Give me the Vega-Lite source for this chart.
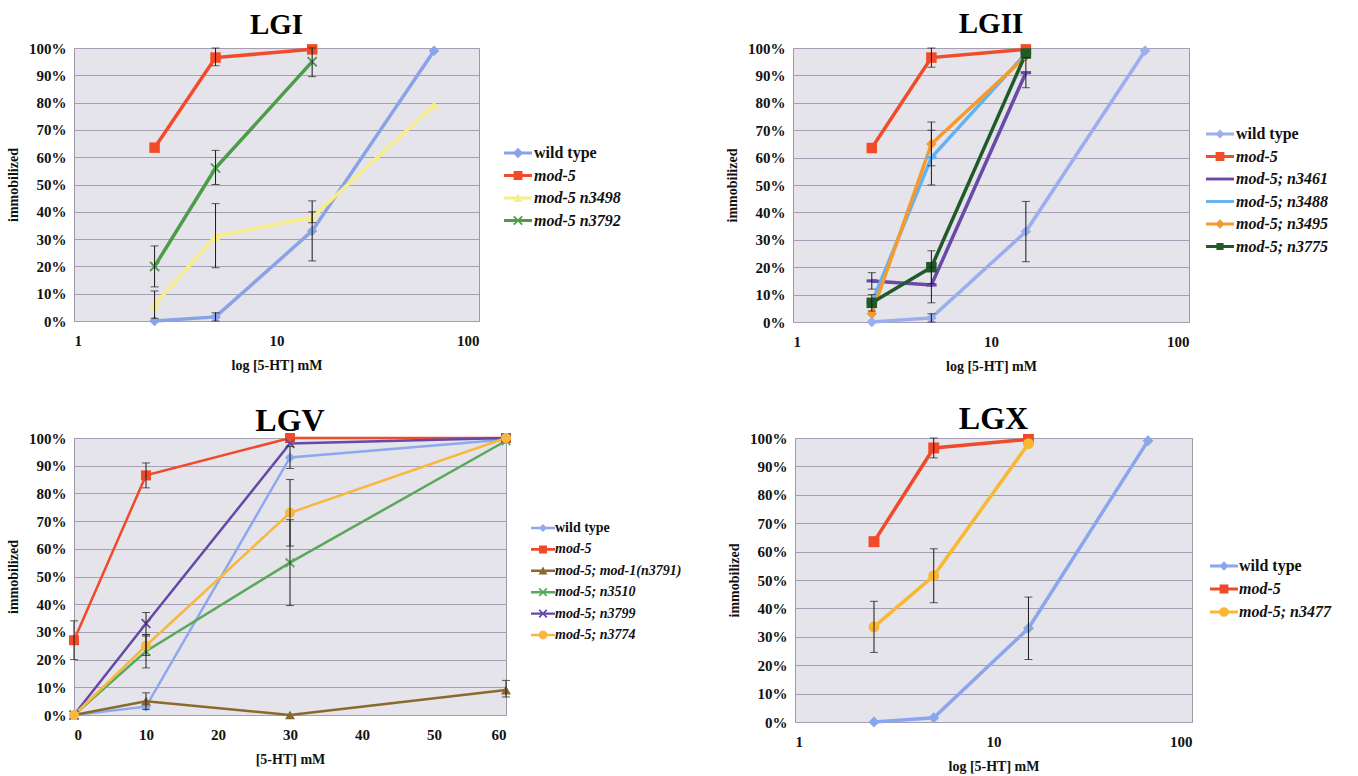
{
  "$schema": "https://vega.github.io/schema/vega-lite/v6.json",
  "background": "white",
  "padding": {"left": 6, "top": 9, "right": 0, "bottom": 0},
  "config": {
    "font": "Liberation Serif",
    "view": {"fill": "#e4e4ea", "stroke": "#9c9aa6", "strokeWidth": 1},
    "title": {"font": "Liberation Serif", "fontWeight": "bold", "fontSize": 29, "color": "#000", "anchor": "middle"},
    "axis": {
      "labelFont": "Liberation Serif", "labelFontWeight": "bold", "labelFontSize": 15, "labelColor": "#111",
      "titleFont": "Liberation Serif", "titleFontWeight": "bold", "titleFontSize": 14, "titleColor": "#111",
      "ticks": false, "domain": false, "grid": false, "labelOverlap": false
    },
    "axisY": {"grid": true, "gridColor": "#a69eb2", "gridWidth": 1, "gridOpacity": 1, "labelPadding": 8, "titlePadding": 8},
    "axisX": {"labelPadding": 12, "titlePadding": 10},
    "legend": {
      "labelFont": "Liberation Serif", "labelFontWeight": "bold", "labelFontSize": 16, "labelColor": "#111",
      "orient": "none", "direction": "vertical", "symbolSize": 256, "labelOffset": 8, "rowPadding": 6.5
    }
  },
  "datasets": {
    "lgi": [
      {"series": "wild type", "conc": 2.5, "pct": 0},
      {"series": "wild type", "conc": 5, "pct": 1.5, "lo": 0, "hi": 3},
      {"series": "wild type", "conc": 15, "pct": 33, "lo": 22, "hi": 44},
      {"series": "wild type", "conc": 60, "pct": 99},
      {"series": "mod-5", "conc": 2.5, "pct": 63.5},
      {"series": "mod-5", "conc": 5, "pct": 96.5, "lo": 93.5, "hi": 100},
      {"series": "mod-5", "conc": 15, "pct": 99.5},
      {"series": "mod-5 n3498", "conc": 2.5, "pct": 6, "lo": 1, "hi": 11},
      {"series": "mod-5 n3498", "conc": 5, "pct": 31, "lo": 19.5, "hi": 43},
      {"series": "mod-5 n3498", "conc": 15, "pct": 38, "lo": 36, "hi": 40},
      {"series": "mod-5 n3498", "conc": 60, "pct": 79},
      {"series": "mod-5 n3792", "conc": 2.5, "pct": 20, "lo": 12.5, "hi": 27.5},
      {"series": "mod-5 n3792", "conc": 5, "pct": 56, "lo": 50, "hi": 62.5},
      {"series": "mod-5 n3792", "conc": 15, "pct": 95, "lo": 89.5, "hi": 100}
    ],
    "lgii": [
      {"series": "wild type", "conc": 2.5, "pct": 0},
      {"series": "wild type", "conc": 5, "pct": 1.5, "lo": 0, "hi": 3},
      {"series": "wild type", "conc": 15, "pct": 33, "lo": 22, "hi": 44},
      {"series": "wild type", "conc": 60, "pct": 99},
      {"series": "mod-5", "conc": 2.5, "pct": 63.5},
      {"series": "mod-5", "conc": 5, "pct": 96.5, "lo": 93, "hi": 100},
      {"series": "mod-5", "conc": 15, "pct": 99.5},
      {"series": "mod-5; n3461", "conc": 2.5, "pct": 15, "lo": 12, "hi": 18},
      {"series": "mod-5; n3461", "conc": 5, "pct": 13.5, "lo": 7, "hi": 20},
      {"series": "mod-5; n3461", "conc": 15, "pct": 91, "lo": 85.5, "hi": 96.5},
      {"series": "mod-5; n3488", "conc": 2.5, "pct": 7},
      {"series": "mod-5; n3488", "conc": 5, "pct": 60, "lo": 50, "hi": 70},
      {"series": "mod-5; n3488", "conc": 15, "pct": 98},
      {"series": "mod-5; n3495", "conc": 2.5, "pct": 3},
      {"series": "mod-5; n3495", "conc": 5, "pct": 65, "lo": 57, "hi": 73},
      {"series": "mod-5; n3495", "conc": 15, "pct": 97},
      {"series": "mod-5; n3775", "conc": 2.5, "pct": 7, "lo": 4, "hi": 10},
      {"series": "mod-5; n3775", "conc": 5, "pct": 20, "lo": 14, "hi": 26},
      {"series": "mod-5; n3775", "conc": 15, "pct": 98}
    ],
    "lgv": [
      {"series": "wild type", "conc": 0, "pct": 0},
      {"series": "wild type", "conc": 10, "pct": 3},
      {"series": "wild type", "conc": 30, "pct": 93, "lo": 89, "hi": 97},
      {"series": "wild type", "conc": 60, "pct": 99.5},
      {"series": "mod-5", "conc": 0, "pct": 27, "lo": 20, "hi": 34},
      {"series": "mod-5", "conc": 10, "pct": 86.5, "lo": 82, "hi": 91},
      {"series": "mod-5", "conc": 30, "pct": 100},
      {"series": "mod-5", "conc": 60, "pct": 100},
      {"series": "mod-5; mod-1(n3791)", "conc": 0, "pct": 0},
      {"series": "mod-5; mod-1(n3791)", "conc": 10, "pct": 5, "lo": 2, "hi": 8},
      {"series": "mod-5; mod-1(n3791)", "conc": 30, "pct": 0},
      {"series": "mod-5; mod-1(n3791)", "conc": 60, "pct": 9, "lo": 6.5, "hi": 12.5},
      {"series": "mod-5; n3510", "conc": 0, "pct": 0},
      {"series": "mod-5; n3510", "conc": 10, "pct": 23, "lo": 17, "hi": 29},
      {"series": "mod-5; n3510", "conc": 30, "pct": 55, "lo": 39.5, "hi": 70.5},
      {"series": "mod-5; n3510", "conc": 60, "pct": 99},
      {"series": "mod-5; n3799", "conc": 0, "pct": 0},
      {"series": "mod-5; n3799", "conc": 10, "pct": 33, "lo": 29, "hi": 37},
      {"series": "mod-5; n3799", "conc": 30, "pct": 98},
      {"series": "mod-5; n3799", "conc": 60, "pct": 100},
      {"series": "mod-5; n3774", "conc": 0, "pct": 0},
      {"series": "mod-5; n3774", "conc": 10, "pct": 25, "lo": 21.5, "hi": 28.5},
      {"series": "mod-5; n3774", "conc": 30, "pct": 73, "lo": 61, "hi": 85},
      {"series": "mod-5; n3774", "conc": 60, "pct": 100}
    ],
    "lgx": [
      {"series": "wild type", "conc": 2.5, "pct": 0},
      {"series": "wild type", "conc": 5, "pct": 1.5},
      {"series": "wild type", "conc": 15, "pct": 33, "lo": 22, "hi": 44},
      {"series": "wild type", "conc": 60, "pct": 99},
      {"series": "mod-5", "conc": 2.5, "pct": 63.5},
      {"series": "mod-5", "conc": 5, "pct": 96.5, "lo": 93, "hi": 100},
      {"series": "mod-5", "conc": 15, "pct": 99.5},
      {"series": "mod-5; n3477", "conc": 2.5, "pct": 33.5, "lo": 24.5, "hi": 42.5},
      {"series": "mod-5; n3477", "conc": 5, "pct": 51.5, "lo": 42, "hi": 61},
      {"series": "mod-5; n3477", "conc": 15, "pct": 98}
    ]
  },
  "resolve": {"scale": {"color": "independent", "shape": "independent"}, "legend": {"color": "independent", "shape": "independent"}},
  "spacing": 28,
  "vconcat": [
    {
      "resolve": {"scale": {"color": "independent", "shape": "independent"}, "legend": {"color": "independent", "shape": "independent"}},
      "columns": 2, "align": "none", "spacing": 103,
      "concat": [
        {
          "title": {"text": "LGI", "offset": 1},
          "width": 405, "height": 273,
          "data": {"name": "lgi"},
          "encoding": {
            "x": {"field": "conc", "type": "quantitative", "scale": {"type": "log", "domain": [1, 100], "nice": false}, "axis": {"values": [1, 10, 100], "format": "d", "title": "log [5-HT] mM"}}
          },
          "layer": [
            {
              "mark": {"type": "line", "strokeWidth": 3.5},
              "encoding": {
                "y": {"field": "pct", "type": "quantitative", "title": "immobilized", "scale": {"domain": [0, 100], "nice": false}, "axis": {"values": [0, 10, 20, 30, 40, 50, 60, 70, 80, 90, 100], "labelExpr": "datum.value + '%'"}},
                "color": {"field": "series", "type": "nominal", "scale": {"domain": ["wild type", "mod-5", "mod-5 n3498", "mod-5 n3792"], "range": ["#8aa3e8", "#f24b2a", "#f6ee8a", "#4c9c4a"]},
                  "legend": {"title": null, "legendX": 436, "legendY": 97,
                    "encoding": {
                      "labels": {"fontStyle": {"value": {"expr": "datum.value === 'wild type' ? 'normal' : 'italic'"}}},
                      "symbols": {
                        "shape": {"value": {"expr": "datum.value === 'wild type' ? 'M-1.75,-0.18H1.75V0.18H-1.75ZM0,-0.65L0.65,0L0,0.65L-0.65,0Z' : datum.value === 'mod-5' ? 'M-1.75,-0.18H1.75V0.18H-1.75ZM-0.55,-0.55H0.55V0.55H-0.55Z' : datum.value === 'mod-5 n3498' ? 'M-1.75,-0.18H1.75V0.18H-1.75ZM0,-0.6L0.6,0.5H-0.6Z' : 'M-1.75,-0.18H1.75V0.18H-1.75ZM-0.6,-0.45L-0.45,-0.6L0,-0.15L0.45,-0.6L0.6,-0.45L0.15,0L0.6,0.45L0.45,0.6L0,0.15L-0.45,0.6L-0.6,0.45L-0.15,0Z'"}},
                        "strokeWidth": {"value": 0},
                        "opacity": {"value": 1}
                      }
                    }}}
              }
            },
            {
              "mark": {"type": "point", "filled": true, "opacity": 1, "size": 110},
              "encoding": {
                "y": {"field": "pct", "type": "quantitative", "title": "immobilized", "scale": {"domain": [0, 100], "nice": false}, "axis": {"values": [0, 10, 20, 30, 40, 50, 60, 70, 80, 90, 100], "labelExpr": "datum.value + '%'"}},
                "color": {"field": "series", "type": "nominal", "scale": {"domain": ["wild type", "mod-5", "mod-5 n3498", "mod-5 n3792"], "range": ["#8aa3e8", "#f24b2a", "#f6ee8a", "#4c9c4a"]},
                  "legend": {"title": null, "legendX": 436, "legendY": 97,
                    "encoding": {
                      "labels": {"fontStyle": {"value": {"expr": "datum.value === 'wild type' ? 'normal' : 'italic'"}}},
                      "symbols": {
                        "shape": {"value": {"expr": "datum.value === 'wild type' ? 'M-1.75,-0.18H1.75V0.18H-1.75ZM0,-0.65L0.65,0L0,0.65L-0.65,0Z' : datum.value === 'mod-5' ? 'M-1.75,-0.18H1.75V0.18H-1.75ZM-0.55,-0.55H0.55V0.55H-0.55Z' : datum.value === 'mod-5 n3498' ? 'M-1.75,-0.18H1.75V0.18H-1.75ZM0,-0.6L0.6,0.5H-0.6Z' : 'M-1.75,-0.18H1.75V0.18H-1.75ZM-0.6,-0.45L-0.45,-0.6L0,-0.15L0.45,-0.6L0.6,-0.45L0.15,0L0.6,0.45L0.45,0.6L0,0.15L-0.45,0.6L-0.6,0.45L-0.15,0Z'"}},
                        "strokeWidth": {"value": 0},
                        "opacity": {"value": 1}
                      }
                    }}},
                "shape": {"field": "series", "type": "nominal", "legend": null, "scale": {"domain": ["mod-5 n3792", "mod-5 n3498", "mod-5", "wild type"], "range": ["M-1,-0.75L-0.75,-1L0,-0.25L0.75,-1L1,-0.75L0.25,0L1,0.75L0.75,1L0,0.25L-0.75,1L-1,0.75L-0.25,0Z", "triangle-up", "square", "diamond"]}}
              }
            },
            {
              "transform": [{"filter": "isValid(datum.lo)"}],
              "mark": {"type": "errorbar", "color": "#1a1a1a", "ticks": {"size": 8, "thickness": 1}, "rule": {"strokeWidth": 1}},
              "encoding": {
                "y": {"field": "lo", "type": "quantitative", "title": "immobilized", "scale": {"domain": [0, 100], "nice": false}, "axis": {"values": [0, 10, 20, 30, 40, 50, 60, 70, 80, 90, 100], "labelExpr": "datum.value + '%'"}},
                "y2": {"field": "hi"}
              }
            }
          ]
        },
        {
          "title": {"text": "LGII", "offset": 2},
          "width": 396, "height": 274,
          "data": {"name": "lgii"},
          "encoding": {
            "x": {"field": "conc", "type": "quantitative", "scale": {"type": "log", "domain": [1, 100], "nice": false}, "axis": {"values": [1, 10, 100], "format": "d", "title": "log [5-HT] mM"}}
          },
          "layer": [
            {
              "mark": {"type": "line", "strokeWidth": 3.5},
              "encoding": {
                "y": {"field": "pct", "type": "quantitative", "title": "immobilized", "scale": {"domain": [0, 100], "nice": false}, "axis": {"values": [0, 10, 20, 30, 40, 50, 60, 70, 80, 90, 100], "labelExpr": "datum.value + '%'"}},
                "color": {"field": "series", "type": "nominal", "scale": {"domain": ["wild type", "mod-5", "mod-5; n3461", "mod-5; n3488", "mod-5; n3495", "mod-5; n3775"], "range": ["#9aaef0", "#f24b2a", "#6a4aa8", "#62b2f2", "#f79a2e", "#1f5a28"]},
                  "legend": {"title": null, "legendX": 419, "legendY": 78,
                    "encoding": {
                      "labels": {"fontStyle": {"value": {"expr": "datum.value === 'wild type' ? 'normal' : 'italic'"}}},
                      "symbols": {
                        "shape": {"value": {"expr": "datum.value === 'wild type' ? 'M-1.75,-0.18H1.75V0.18H-1.75ZM0,-0.55L0.55,0L0,0.55L-0.55,0Z' : datum.value === 'mod-5' ? 'M-1.75,-0.18H1.75V0.18H-1.75ZM-0.55,-0.55H0.55V0.55H-0.55Z' : datum.value === 'mod-5; n3495' ? 'M-1.75,-0.18H1.75V0.18H-1.75ZM0,-0.6L0.6,0L0,0.6L-0.6,0Z' : datum.value === 'mod-5; n3775' ? 'M-1.75,-0.18H1.75V0.18H-1.75ZM-0.45,-0.45H0.45V0.45H-0.45Z' : 'M-1.75,-0.18H1.75V0.18H-1.75Z'"}},
                        "strokeWidth": {"value": 0},
                        "opacity": {"value": 1}
                      }
                    }}}
              }
            },
            {
              "mark": {"type": "point", "filled": true, "opacity": 1, "size": 110},
              "encoding": {
                "y": {"field": "pct", "type": "quantitative", "title": "immobilized", "scale": {"domain": [0, 100], "nice": false}, "axis": {"values": [0, 10, 20, 30, 40, 50, 60, 70, 80, 90, 100], "labelExpr": "datum.value + '%'"}},
                "color": {"field": "series", "type": "nominal", "scale": {"domain": ["wild type", "mod-5", "mod-5; n3461", "mod-5; n3488", "mod-5; n3495", "mod-5; n3775"], "range": ["#9aaef0", "#f24b2a", "#6a4aa8", "#62b2f2", "#f79a2e", "#1f5a28"]},
                  "legend": {"title": null, "legendX": 419, "legendY": 78,
                    "encoding": {
                      "labels": {"fontStyle": {"value": {"expr": "datum.value === 'wild type' ? 'normal' : 'italic'"}}},
                      "symbols": {
                        "shape": {"value": {"expr": "datum.value === 'wild type' ? 'M-1.75,-0.18H1.75V0.18H-1.75ZM0,-0.55L0.55,0L0,0.55L-0.55,0Z' : datum.value === 'mod-5' ? 'M-1.75,-0.18H1.75V0.18H-1.75ZM-0.55,-0.55H0.55V0.55H-0.55Z' : datum.value === 'mod-5; n3495' ? 'M-1.75,-0.18H1.75V0.18H-1.75ZM0,-0.6L0.6,0L0,0.6L-0.6,0Z' : datum.value === 'mod-5; n3775' ? 'M-1.75,-0.18H1.75V0.18H-1.75ZM-0.45,-0.45H0.45V0.45H-0.45Z' : 'M-1.75,-0.18H1.75V0.18H-1.75Z'"}},
                        "strokeWidth": {"value": 0},
                        "opacity": {"value": 1}
                      }
                    }}},
                "shape": {"field": "series", "type": "nominal", "legend": null, "scale": {"domain": ["mod-5; n3775", "mod-5; n3495", "mod-5; n3488", "mod-5; n3461", "mod-5", "wild type"], "range": ["square", "diamond", "M-1,-0.3H1V0.3H-1Z", "M-1,-0.3H1V0.3H-1Z", "square", "diamond"]}}
              }
            },
            {
              "transform": [{"filter": "isValid(datum.lo)"}],
              "mark": {"type": "errorbar", "color": "#1a1a1a", "ticks": {"size": 8, "thickness": 1}, "rule": {"strokeWidth": 1}},
              "encoding": {
                "y": {"field": "lo", "type": "quantitative", "title": "immobilized", "scale": {"domain": [0, 100], "nice": false}, "axis": {"values": [0, 10, 20, 30, 40, 50, 60, 70, 80, 90, 100], "labelExpr": "datum.value + '%'"}},
                "y2": {"field": "hi"}
              }
            }
          ]
        }
      ]
    },
    {
      "resolve": {"scale": {"color": "independent", "shape": "independent"}, "legend": {"color": "independent", "shape": "independent"}},
      "columns": 2, "align": "none", "spacing": 44,
      "concat": [
        {
          "title": {"text": "LGV", "offset": -7, "fontSize": 32},
          "width": 432, "height": 277,
          "data": {"name": "lgv"},
          "encoding": {
            "x": {"field": "conc", "type": "quantitative", "scale": {"domain": [0, 60], "nice": false}, "axis": {"values": [0, 10, 20, 30, 40, 50, 60], "title": "[5-HT] mM"}}
          },
          "layer": [
            {
              "mark": {"type": "line", "strokeWidth": 2.5},
              "encoding": {
                "y": {"field": "pct", "type": "quantitative", "title": "immobilized", "scale": {"domain": [0, 100], "nice": false}, "axis": {"values": [0, 10, 20, 30, 40, 50, 60, 70, 80, 90, 100], "labelExpr": "datum.value + '%'"}},
                "color": {"field": "series", "type": "nominal", "scale": {"domain": ["wild type", "mod-5", "mod-5; mod-1(n3791)", "mod-5; n3510", "mod-5; n3799", "mod-5; n3774"], "range": ["#8ea8f0", "#f04a2a", "#8a6a2c", "#5aa85a", "#6648a8", "#f7b840"]},
                  "legend": {"title": null, "legendX": 461, "legendY": 82, "labelFontSize": 14, "labelOffset": 4, "rowPadding": 6.4,
                    "encoding": {
                      "labels": {"fontStyle": {"value": {"expr": "datum.value === 'wild type' ? 'normal' : 'italic'"}}},
                      "symbols": {
                        "shape": {"value": {"expr": "datum.value === 'wild type' ? 'M-1.5,-0.15H1.5V0.15H-1.5ZM0,-0.5L0.5,0L0,0.5L-0.5,0Z' : datum.value === 'mod-5' ? 'M-1.5,-0.18H1.5V0.18H-1.5ZM-0.5,-0.5H0.5V0.5H-0.5Z' : datum.value === 'mod-5; mod-1(n3791)' ? 'M-1.5,-0.15H1.5V0.15H-1.5ZM0,-0.55L0.55,0.45H-0.55Z' : datum.value === 'mod-5; n3774' ? 'M-1.5,-0.15H1.5V0.15H-1.5ZM-0.55,0A0.55,0.55,0,1,1,0.55,0A0.55,0.55,0,1,1,-0.55,0Z' : 'M-1.5,-0.15H1.5V0.15H-1.5ZM-0.55,-0.4L-0.4,-0.55L0,-0.15L0.4,-0.55L0.55,-0.4L0.15,0L0.55,0.4L0.4,0.55L0,0.15L-0.4,0.55L-0.55,0.4L-0.15,0Z'"}},
                        "strokeWidth": {"value": 0},
                        "opacity": {"value": 1}
                      }
                    }}}
              }
            },
            {
              "mark": {"type": "point", "filled": true, "opacity": 1, "size": 100},
              "encoding": {
                "y": {"field": "pct", "type": "quantitative", "title": "immobilized", "scale": {"domain": [0, 100], "nice": false}, "axis": {"values": [0, 10, 20, 30, 40, 50, 60, 70, 80, 90, 100], "labelExpr": "datum.value + '%'"}},
                "color": {"field": "series", "type": "nominal", "scale": {"domain": ["wild type", "mod-5", "mod-5; mod-1(n3791)", "mod-5; n3510", "mod-5; n3799", "mod-5; n3774"], "range": ["#8ea8f0", "#f04a2a", "#8a6a2c", "#5aa85a", "#6648a8", "#f7b840"]},
                  "legend": {"title": null, "legendX": 461, "legendY": 82, "labelFontSize": 14, "labelOffset": 4, "rowPadding": 6.4,
                    "encoding": {
                      "labels": {"fontStyle": {"value": {"expr": "datum.value === 'wild type' ? 'normal' : 'italic'"}}},
                      "symbols": {
                        "shape": {"value": {"expr": "datum.value === 'wild type' ? 'M-1.5,-0.15H1.5V0.15H-1.5ZM0,-0.5L0.5,0L0,0.5L-0.5,0Z' : datum.value === 'mod-5' ? 'M-1.5,-0.18H1.5V0.18H-1.5ZM-0.5,-0.5H0.5V0.5H-0.5Z' : datum.value === 'mod-5; mod-1(n3791)' ? 'M-1.5,-0.15H1.5V0.15H-1.5ZM0,-0.55L0.55,0.45H-0.55Z' : datum.value === 'mod-5; n3774' ? 'M-1.5,-0.15H1.5V0.15H-1.5ZM-0.55,0A0.55,0.55,0,1,1,0.55,0A0.55,0.55,0,1,1,-0.55,0Z' : 'M-1.5,-0.15H1.5V0.15H-1.5ZM-0.55,-0.4L-0.4,-0.55L0,-0.15L0.4,-0.55L0.55,-0.4L0.15,0L0.55,0.4L0.4,0.55L0,0.15L-0.4,0.55L-0.55,0.4L-0.15,0Z'"}},
                        "strokeWidth": {"value": 0},
                        "opacity": {"value": 1}
                      }
                    }}},
                "shape": {"field": "series", "type": "nominal", "legend": null, "scale": {"domain": ["mod-5; n3774", "mod-5; n3799", "mod-5; n3510", "mod-5; mod-1(n3791)", "mod-5", "wild type"], "range": ["circle", "M-1,-0.75L-0.75,-1L0,-0.25L0.75,-1L1,-0.75L0.25,0L1,0.75L0.75,1L0,0.25L-0.75,1L-1,0.75L-0.25,0Z", "M-1,-0.75L-0.75,-1L0,-0.25L0.75,-1L1,-0.75L0.25,0L1,0.75L0.75,1L0,0.25L-0.75,1L-1,0.75L-0.25,0Z", "triangle-up", "square", "diamond"]}}
              }
            },
            {
              "transform": [{"filter": "isValid(datum.lo)"}],
              "mark": {"type": "errorbar", "color": "#1a1a1a", "ticks": {"size": 8, "thickness": 1}, "rule": {"strokeWidth": 1}},
              "encoding": {
                "y": {"field": "lo", "type": "quantitative", "title": "immobilized", "scale": {"domain": [0, 100], "nice": false}, "axis": {"values": [0, 10, 20, 30, 40, 50, 60, 70, 80, 90, 100], "labelExpr": "datum.value + '%'"}},
                "y2": {"field": "hi"}
              }
            }
          ]
        },
        {
          "title": {"text": "LGX", "offset": -5, "fontSize": 32},
          "width": 397, "height": 284,
          "data": {"name": "lgx"},
          "encoding": {
            "x": {"field": "conc", "type": "quantitative", "scale": {"type": "log", "domain": [1, 100], "nice": false}, "axis": {"values": [1, 10, 100], "format": "d", "title": "log [5-HT] mM"}}
          },
          "layer": [
            {
              "mark": {"type": "line", "strokeWidth": 3.5},
              "encoding": {
                "y": {"field": "pct", "type": "quantitative", "title": "immobilized", "scale": {"domain": [0, 100], "nice": false}, "axis": {"values": [0, 10, 20, 30, 40, 50, 60, 70, 80, 90, 100], "labelExpr": "datum.value + '%'"}},
                "color": {"field": "series", "type": "nominal", "scale": {"domain": ["wild type", "mod-5", "mod-5; n3477"], "range": ["#8aa6ee", "#f04a2a", "#f8b830"]},
                  "legend": {"title": null, "legendX": 421, "legendY": 120, "labelOffset": 7, "rowPadding": 7,
                    "encoding": {
                      "labels": {"fontStyle": {"value": {"expr": "datum.value === 'wild type' ? 'normal' : 'italic'"}}},
                      "symbols": {
                        "shape": {"value": {"expr": "datum.value === 'wild type' ? 'M-1.75,-0.18H1.75V0.18H-1.75ZM0,-0.6L0.6,0L0,0.6L-0.6,0Z' : datum.value === 'mod-5' ? 'M-1.75,-0.18H1.75V0.18H-1.75ZM-0.55,-0.55H0.55V0.55H-0.55Z' : 'M-1.75,-0.18H1.75V0.18H-1.75ZM-0.6,0A0.6,0.6,0,1,1,0.6,0A0.6,0.6,0,1,1,-0.6,0Z'"}},
                        "strokeWidth": {"value": 0},
                        "opacity": {"value": 1}
                      }
                    }}}
              }
            },
            {
              "mark": {"type": "point", "filled": true, "opacity": 1, "size": 120},
              "encoding": {
                "y": {"field": "pct", "type": "quantitative", "title": "immobilized", "scale": {"domain": [0, 100], "nice": false}, "axis": {"values": [0, 10, 20, 30, 40, 50, 60, 70, 80, 90, 100], "labelExpr": "datum.value + '%'"}},
                "color": {"field": "series", "type": "nominal", "scale": {"domain": ["wild type", "mod-5", "mod-5; n3477"], "range": ["#8aa6ee", "#f04a2a", "#f8b830"]},
                  "legend": {"title": null, "legendX": 421, "legendY": 120, "labelOffset": 7, "rowPadding": 7,
                    "encoding": {
                      "labels": {"fontStyle": {"value": {"expr": "datum.value === 'wild type' ? 'normal' : 'italic'"}}},
                      "symbols": {
                        "shape": {"value": {"expr": "datum.value === 'wild type' ? 'M-1.75,-0.18H1.75V0.18H-1.75ZM0,-0.6L0.6,0L0,0.6L-0.6,0Z' : datum.value === 'mod-5' ? 'M-1.75,-0.18H1.75V0.18H-1.75ZM-0.55,-0.55H0.55V0.55H-0.55Z' : 'M-1.75,-0.18H1.75V0.18H-1.75ZM-0.6,0A0.6,0.6,0,1,1,0.6,0A0.6,0.6,0,1,1,-0.6,0Z'"}},
                        "strokeWidth": {"value": 0},
                        "opacity": {"value": 1}
                      }
                    }}},
                "shape": {"field": "series", "type": "nominal", "legend": null, "scale": {"domain": ["mod-5; n3477", "mod-5", "wild type"], "range": ["circle", "square", "diamond"]}}
              }
            },
            {
              "transform": [{"filter": "isValid(datum.lo)"}],
              "mark": {"type": "errorbar", "color": "#1a1a1a", "ticks": {"size": 8, "thickness": 1}, "rule": {"strokeWidth": 1}},
              "encoding": {
                "y": {"field": "lo", "type": "quantitative", "title": "immobilized", "scale": {"domain": [0, 100], "nice": false}, "axis": {"values": [0, 10, 20, 30, 40, 50, 60, 70, 80, 90, 100], "labelExpr": "datum.value + '%'"}},
                "y2": {"field": "hi"}
              }
            }
          ]
        }
      ]
    }
  ]
}
